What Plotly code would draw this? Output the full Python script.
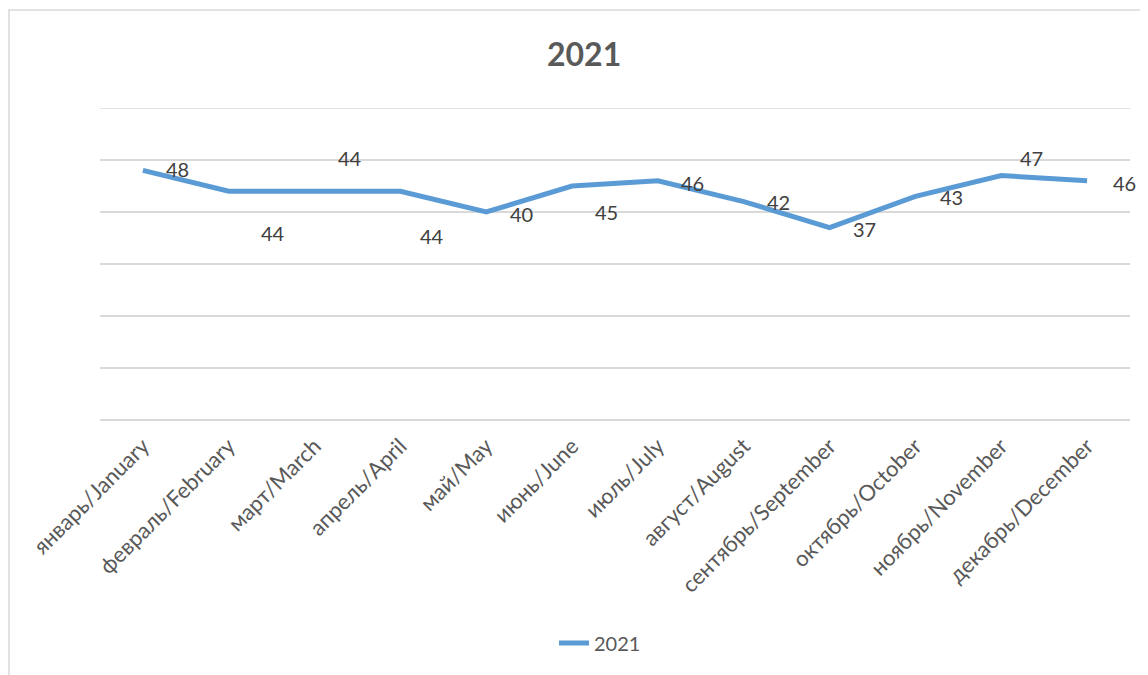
import plotly.graph_objects as go

months = ["январь/January", "февраль/February", "март/March", "апрель/April",
          "май/May", "июнь/June", "июль/July", "август/August",
          "сентябрь/September", "октябрь/October", "ноябрь/November", "декабрь/December"]
values_2021 = [48, 44, 44, 44, 40, 45, 46, 42, 37, 43, 47, 46]
series_name = "2021"
title_text = "2021"
y_max = 60

# label placement offsets (pixels) – styling only
label_dx = [35, 44, 35, 32, 35, 34, 35, 35, 35, 36, 30, 37]
label_dy = [1, -42, 33, -45, -2, -26, -2, 0, -1, -1, 18, -2]

FONT = "Lato"
OFF = 8  # page body margin
W, H = 1148 - OFF, 675 - OFF
L, T = 100 - OFF, 108 - OFF
pw, ph = 1030, 312
R = W - L - pw
B = H - T - ph


def px_x(x):
    return (x - OFF - L) / pw


def px_y(y):
    return (T + ph - (y - OFF)) / ph


fig = go.Figure()
fig.add_trace(go.Scatter(
    x=months, y=values_2021, mode="lines", name=series_name,
    line=dict(color="#5B9BD5", width=5),
))

for m, v, dx, dy in zip(months, values_2021, label_dx, label_dy):
    fig.add_annotation(x=m, y=v, text=str(v), showarrow=False,
                       xshift=dx, yshift=dy,
                       font=dict(family=FONT, size=20, color="#404040"))

fig.add_annotation(xref="paper", yref="paper", x=px_x(584), y=px_y(54),
                   text="<b>" + title_text + "</b>", showarrow=False,
                   xanchor="center", yanchor="middle",
                   font=dict(family=FONT, size=32, color="#595959"))

# top gridline (plotly omits the one on the range edge)
fig.add_shape(type="line", xref="paper", yref="y", x0=0, x1=1, y0=y_max, y1=y_max,
              line=dict(color="#d9d9d9", width=1.5), layer="below")

# chart border
fig.add_shape(type="rect", xref="paper", yref="paper",
              x0=px_x(9), x1=px_x(1190),
              y0=px_y(720), y1=px_y(10),
              line=dict(color="#d9d9d9", width=1.5), fillcolor="rgba(0,0,0,0)", layer="below")

fig.update_layout(
    width=W, height=H,
    margin=dict(l=L, r=R, t=T, b=B),
    paper_bgcolor="white", plot_bgcolor="white",
    showlegend=True,
    legend=dict(orientation="h", x=px_x(600), xanchor="center",
                y=px_y(643), yanchor="middle",
                font=dict(family=FONT, size=20, color="#595959")),
    xaxis=dict(type="category", range=[-0.5, len(months) - 0.5],
               tickangle=-45, showgrid=False, showline=False, ticks="",
               ticklabelstandoff=8,
               tickfont=dict(family=FONT, size=22, color="#595959")),
    yaxis=dict(range=[0, y_max], tickvals=[10, 20, 30, 40, 50], showticklabels=False,
               showgrid=True, gridcolor="#d9d9d9", gridwidth=1.5,
               zeroline=True, zerolinecolor="#d9d9d9", zerolinewidth=1.5,
               showline=False, ticks=""),
)

fig.write_html("out.html")
